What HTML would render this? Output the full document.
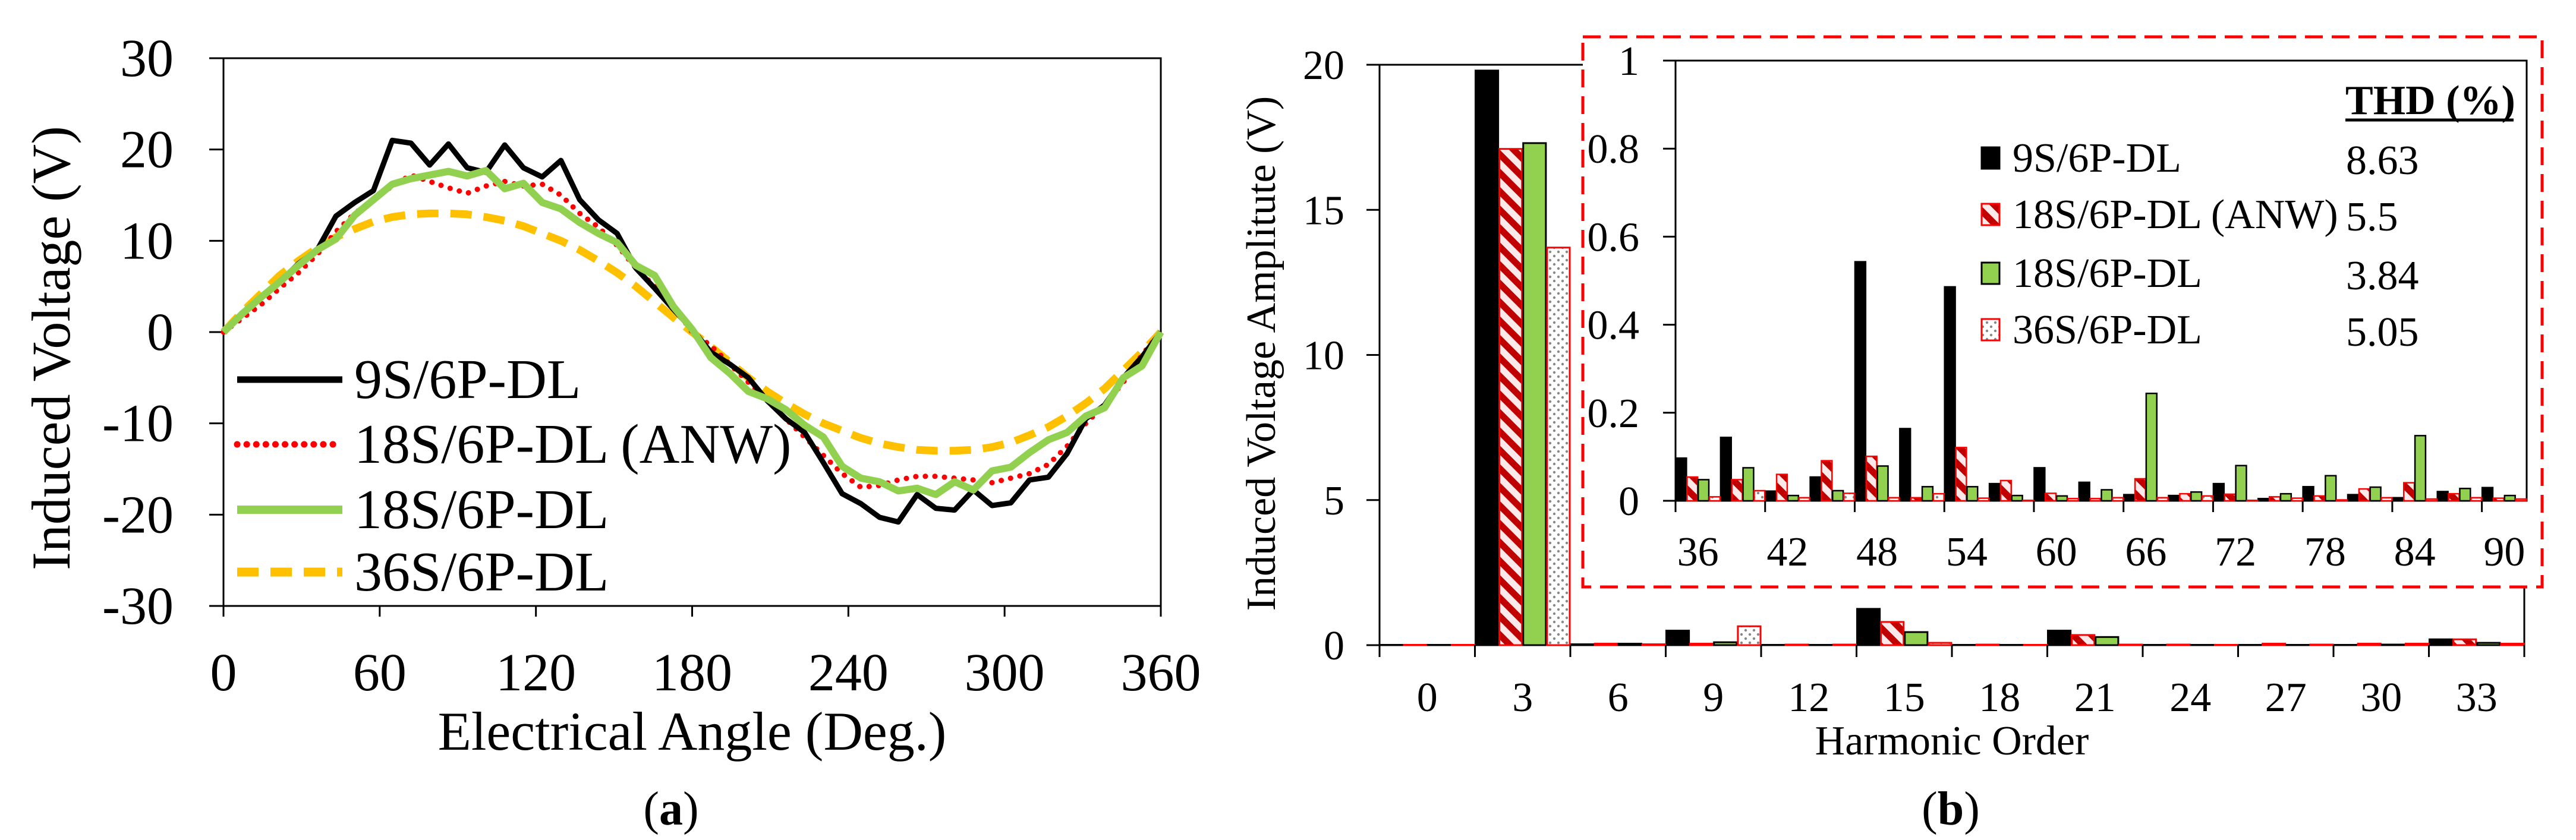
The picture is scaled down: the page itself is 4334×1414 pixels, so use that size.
<!DOCTYPE html>
<html><head><meta charset="utf-8"><style>
html,body{margin:0;padding:0;background:#fff}
svg{display:block;font-family:"Liberation Serif",serif}
</style></head><body>
<svg id="s" width="4334" height="1414" viewBox="0 0 4334 1414" xmlns="http://www.w3.org/2000/svg">
<defs>
<pattern id="hatch" patternUnits="userSpaceOnUse" width="22" height="22" patternTransform="rotate(45)">
<rect width="22" height="22" fill="#fde9e9"/><rect width="22" height="11" fill="#c00000"/>
</pattern>
<pattern id="dots" patternUnits="userSpaceOnUse" width="14" height="14">
<rect width="14" height="14" fill="#fff"/><circle cx="4" cy="4" r="2.2" fill="#888"/><circle cx="11" cy="11" r="2.2" fill="#888"/>
</pattern>
</defs>
<g id="left"></g>
<g id="right"></g>
</svg>
<script>
// ---------- Left chart data ----------
const angleStep = 7.2;
const v9S = [0,2,3.8,5.5,7.5,9,12.7,14.2,15.5,21,20.7,18.3,20.6,18,17.5,20.5,18,17,18.8,14.5,12.3,10.8,7,4.8,2.5,0.3,-2.2,-3.5,-5,-7.5,-9.5,-11,-14.3,-17.7,-18.8,-20.3,-20.8,-17.8,-19.3,-19.5,-17.3,-19,-18.7,-16.2,-15.9,-13.3,-9.5,-8,-5,-2.7,0];
const v18SANW = [0,1.5,3,4.8,6.5,8.5,11,13,14.5,16,17.2,16.5,15.8,15.2,16,16.5,16,16.2,15,13,11.5,9.5,7,5,2.8,0,-1.5,-3.5,-5.5,-7.5,-9.5,-11.5,-13.5,-15.5,-17,-16.8,-16.2,-15.8,-15.8,-16,-16.2,-16.5,-16,-15.5,-14.5,-12.5,-10,-8,-5.5,-2.5,0];
const v18S = [0,2,3.8,5.5,7.3,9,10.2,12.8,14.5,16.2,16.8,17.2,17.6,17.1,17.7,15.7,16.3,14.2,13.5,12,10.8,9.8,7.3,6.2,2.8,0.3,-2.8,-4.5,-6.5,-7.3,-8.5,-10.2,-11.5,-14.7,-16,-16.4,-17.4,-17.1,-17.8,-16.4,-17.3,-15.2,-14.8,-13.2,-11.8,-11,-9.2,-8.3,-5,-3.7,0];
const v36S = [0,2.2,4.2,6.2,7.8,9.2,10.4,11.3,12.1,12.6,12.9,13,13,12.9,12.6,12.2,11.6,10.8,10,9,7.8,6.5,5,3.3,1.6,0,-1.6,-3.3,-5,-6.5,-7.8,-9,-10,-10.8,-11.6,-12.2,-12.6,-12.9,-13,-13,-12.9,-12.6,-12.1,-11.3,-10.4,-9.2,-7.8,-6.2,-4.2,-2.2,0];
const xTicksL = [0,60,120,180,240,300,360];
const yTicksL = [-30,-20,-10,0,10,20,30];

// ---------- Right chart data ----------
const mainCats = [0,3,6,9,12,15,18,21,24,27,30,33];
const m9S   = [0.01,19.8,0.03,0.5,0.01,1.25,0.01,0.5,0.01,0.01,0.01,0.2];
const m18SA = [0.01,17.1,0.05,0.05,0.02,0.8,0.02,0.35,0.02,0.05,0.05,0.2];
const m18S  = [0.01,17.3,0.05,0.1,0.01,0.45,0.01,0.28,0.01,0.01,0.02,0.08];
const m36S  = [0.01,13.7,0.03,0.65,0.02,0.08,0.01,0.02,0.01,0.02,0.05,0.05];
const mainYTicks = [0,5,10,15,20];
const insetCats = [36,39,42,45,48,51,54,57,60,63,66,69,72,75,78,81,84,87,90];
const i9S   = [0.097,0.144,0.022,0.054,0.543,0.164,0.486,0.039,0.075,0.042,0.014,0.012,0.039,0.005,0.032,0.014,0.007,0.021,0.03];
const i18SA = [0.054,0.048,0.06,0.091,0.101,0.007,0.121,0.046,0.017,0.005,0.05,0.016,0.015,0.009,0.011,0.027,0.041,0.016,0.006];
const i18S  = [0.048,0.075,0.012,0.023,0.079,0.032,0.032,0.012,0.011,0.025,0.244,0.02,0.08,0.016,0.057,0.031,0.148,0.028,0.012];
const i36S  = [0.009,0.023,0.007,0.017,0.007,0.016,0.006,0.001,0.005,0.007,0.007,0.011,0.001,0.006,0.002,0.007,0.004,0.007,0.004];
const insetYTicks = [0,0.2,0.4,0.6,0.8,1];
const insetYLabels = ["0","0.2","0.4","0.6","0.8","1"];
const seriesNames = ["9S/6P-DL","18S/6P-DL (ANW)","18S/6P-DL","36S/6P-DL"];
const thdValues = ["8.63","5.5","3.84","5.05"];

const NS="http://www.w3.org/2000/svg";
function mk(parent,tag,attrs,text){const e=document.createElementNS(NS,tag);for(const k in attrs)e.setAttribute(k,attrs[k]);if(text!==undefined)e.textContent=text;parent.appendChild(e);return e;}

// ===== Left chart =====
const L=document.getElementById('left');
const lx0=376,lx1=1953,ly0=98,ly1=1020;
const lxs=a=>lx0+(a/360)*(lx1-lx0);
const lys=v=>ly1-((v+30)/60)*(ly1-ly0);
let e;
e=mk(L,'rect',{x:lx0,y:ly0,width:lx1-lx0,height:ly1-ly0,fill:'none',stroke:'#000','stroke-width':3});


yTicksL.forEach(t=>{
  e=mk(L,'line',{x1:lx0-24,x2:lx0,y1:lys(t),y2:lys(t),stroke:'#000','stroke-width':3});
  
  
  e=mk(L,'text',{x:292,y:lys(t)+30,'font-size':90,'text-anchor':'end'},String(t));
  
  
});
xTicksL.forEach(t=>{
  e=mk(L,'line',{x1:lxs(t),x2:lxs(t),y1:ly1,y2:ly1+18,stroke:'#000','stroke-width':3});
  
  
  e=mk(L,'text',{x:lxs(t),y:1162,'font-size':90,'text-anchor':'middle'},String(t));
  
  
});
e=mk(L,'text',{x:lxs(180),y:1262,'font-size':92,'text-anchor':'middle'},'Electrical Angle (Deg.)');


e=mk(L,'text',{x:0,y:0,'font-size':92,'text-anchor':'middle',transform:'translate(117,586) rotate(-90)'},'Induced Voltage (V)');


e=mk(L,'text',{x:1129,y:1388,'font-size':80,'text-anchor':'middle'});
e.innerHTML='(<tspan font-weight="bold">a</tspan>)';



const styles=[
 {d:v9S,stroke:'#000',w:9,dash:null,cap:'butt',name:'series-9s'},
 {d:v18SANW,stroke:'#ff0000',w:9,dash:'0.1 16',cap:'round',name:'series-18s-anw'},
 {d:v18S,stroke:'#92d050',w:12,dash:null,cap:'butt',name:'series-18s'},
 {d:v36S,stroke:'#ffc000',w:13,dash:'36 20',cap:'butt',name:'series-36s'}
];
[3,1,0,2].forEach(i=>{
  const s=styles[i];
  const pts=s.d.map((v,k)=>lxs(k*angleStep).toFixed(1)+','+lys(v).toFixed(1)).join(' ');
  const a={points:pts,fill:'none',stroke:s.stroke,'stroke-width':s.w,'stroke-linecap':s.cap,'stroke-linejoin':'round'};
  if(s.dash)a['stroke-dasharray']=s.dash;
  e=mk(L,'polyline',a);
  
  
});
const legY=[639,748,858,963];
styles.forEach((s,i)=>{
  const a={x1:399,x2:576,y1:legY[i],y2:legY[i],stroke:s.stroke,'stroke-width':s.w+2,'stroke-linecap':s.cap};
  if(s.dash)a['stroke-dasharray']=s.dash;
  e=mk(L,'line',a);
  
  
  e=mk(L,'text',{x:596,y:legY[i]+31,'font-size':94},seriesNames[i]);
  
  
});

// ===== Right chart =====
const R=document.getElementById('right');
const fills=[{fill:'#000',stroke:'#000'},{fill:'url(#hatch)',stroke:'#ff0000'},{fill:'#92d050',stroke:'#000'},{fill:'url(#dots)',stroke:'#ff0000'}];
const mx0=2321,mx1=4247,my0=109,my1=1086;
const mys=v=>my1-(v/20)*(my1-my0);
const mgw=(mx1-mx0)/mainCats.length;
const mainSeries=[m9S,m18SA,m18S,m36S];
e=mk(R,'rect',{x:mx0,y:my0,width:mx1-mx0,height:my1-my0,fill:'none',stroke:'#000','stroke-width':3});


mainSeries.forEach((arr,si)=>{
  arr.forEach((v,g)=>{
    const x=mx0+g*mgw+si*mgw/4;
    e=mk(R,'rect',{x:x+1,y:mys(v),width:mgw/4-2,height:Math.max(0,my1-mys(v)),fill:fills[si].fill,stroke:fills[si].stroke,'stroke-width':3});
    
    
  });
});
mainYTicks.forEach(t=>{
  e=mk(R,'line',{x1:mx0-22,x2:mx0,y1:mys(t),y2:mys(t),stroke:'#000','stroke-width':3});
  
  
  e=mk(R,'text',{x:2262,y:mys(t)+24,'font-size':70,'text-anchor':'end'},String(t));
  
  
});
for(let g=0;g<=mainCats.length;g++){
  e=mk(R,'line',{x1:mx0+g*mgw,x2:mx0+g*mgw,y1:my1,y2:my1+20,stroke:'#000','stroke-width':3});
  
  
}
mainCats.forEach((c,g)=>{
  e=mk(R,'text',{x:mx0+(g+0.5)*mgw,y:1197,'font-size':70,'text-anchor':'middle'},String(c));
  
  
});
e=mk(R,'text',{x:3284,y:1270,'font-size':70,'text-anchor':'middle'},'Harmonic Order');


e=mk(R,'text',{x:0,y:0,'font-size':70,'text-anchor':'middle',transform:'translate(2145,595) rotate(-90)'},'Induced Voltage Amplitute (V)');


e=mk(R,'text',{x:3282,y:1388,'font-size':80,'text-anchor':'middle'});
e.innerHTML='(<tspan font-weight="bold">b</tspan>)';



// Inset
e=mk(R,'rect',{x:2663,y:62,width:1614,height:926,fill:'#fff',stroke:'#ff0000','stroke-width':5,'stroke-dasharray':'30 15'});


const ix0=2819,ix1=4251,iy0=102,iy1=843;
const iys=v=>iy1-v*(iy1-iy0);
const igw=(ix1-ix0)/insetCats.length;
e=mk(R,'rect',{x:ix0,y:iy0,width:ix1-ix0,height:iy1-iy0,fill:'none',stroke:'#000','stroke-width':3});


const insetSeries=[i9S,i18SA,i18S,i36S];
insetSeries.forEach((arr,si)=>{
  arr.forEach((v,g)=>{
    const x=ix0+g*igw+si*igw/4;
    e=mk(R,'rect',{x:x+0.5,y:iys(v),width:igw/4-1,height:Math.max(0,iy1-iys(v)),fill:fills[si].fill,stroke:fills[si].stroke,'stroke-width':2.5});
    
    
  });
});
insetYTicks.forEach((t,i)=>{
  e=mk(R,'line',{x1:ix0-21,x2:ix0,y1:iys(t),y2:iys(t),stroke:'#000','stroke-width':3});
  
  
  e=mk(R,'text',{x:2758,y:iys(t)+24,'font-size':70,'text-anchor':'end'},insetYLabels[i]);
  
  
});
for(let g=0;g<=insetCats.length;g+=2){
  const x=Math.min(ix0+g*igw,ix1);
  e=mk(R,'line',{x1:x,x2:x,y1:iy1,y2:iy1+19,stroke:'#000','stroke-width':3});
  
  
}
insetCats.forEach((c,g)=>{
  if(g%2)return;
  e=mk(R,'text',{x:ix0+(g+0.5)*igw,y:952,'font-size':70,'text-anchor':'middle'},String(c));
  
  
});
e=mk(R,'text',{x:3946,y:192,'font-size':70,'font-weight':'bold'},'THD (%)');


e=mk(R,'line',{x1:3946,x2:4229,y1:202,y2:202,stroke:'#000','stroke-width':5});


const irow=[265,360,459,554];
seriesNames.forEach((n,i)=>{
  e=mk(R,'rect',{x:3334,y:irow[i]-17,width:30,height:36,fill:fills[i].fill,stroke:fills[i].stroke,'stroke-width':3});
  
  
  e=mk(R,'text',{x:3386,y:irow[i]+24,'font-size':70},n);
  
  
  e=mk(R,'text',{x:3947,y:irow[i]+28,'font-size':70},thdValues[i]);
  
  
});
</script>
</body></html>
